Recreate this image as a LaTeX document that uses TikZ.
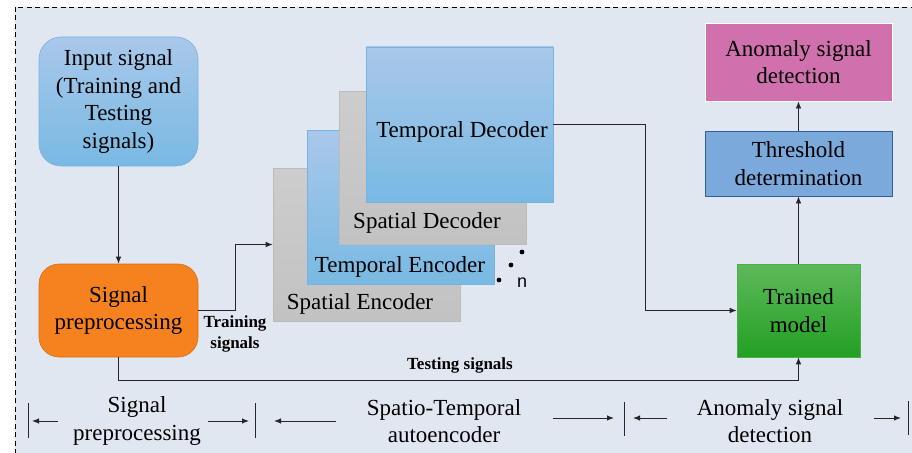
\documentclass[tikz,border=0pt]{standalone}
\usepackage{fontspec}
\setmainfont{Liberation Serif}
\newfontfamily\nfont{Liberation Sans}
\usetikzlibrary{arrows.meta}

\definecolor{bgcol}{HTML}{E1E7F1}
\definecolor{bluetop}{HTML}{A8C8EA}
\definecolor{bluebot}{HTML}{79B9E3}
\definecolor{blueedge}{HTML}{78B2E0}
\definecolor{graytop}{HTML}{CDCDCD}
\definecolor{graybot}{HTML}{C2C2C2}
\definecolor{grayedge}{HTML}{BBBBBB}
\definecolor{prepfill}{HTML}{F6821F}
\definecolor{prepedge}{HTML}{D86E16}
\definecolor{greentop}{HTML}{5EB95B}
\definecolor{greenbot}{HTML}{22A022}
\definecolor{greenedge}{HTML}{4DAF4A}
\definecolor{thrfill}{HTML}{7CA9DC}
\definecolor{thredge}{HTML}{2E5E9E}
\definecolor{anofill}{HTML}{D071AE}

\newcommand{\boxfont}{\fontsize{23}{27.6}\selectfont}
\newcommand{\tagfont}{\fontsize{17}{20.5}\selectfont\bfseries}

\begin{document}
\begin{tikzpicture}[x=1pt, y=-1pt,
    flow/.style={-{Latex[length=7pt,width=5.5pt]}, line width=0.8pt, draw=black!85},
    tick/.style={line width=1pt, draw=black!85},
    block/.style={rectangle, inner sep=0pt, align=center, font=\boxfont},
    blueblk/.style={block, top color=bluetop, bottom color=bluebot, draw=blueedge, line width=0.6pt},
    grayblk/.style={block, top color=graytop, bottom color=graybot, draw=grayedge, line width=0.6pt}]
\useasboundingbox (0,0) rectangle (912,452);
\clip (0,0) rectangle (912,452);
\draw[fill=bgcol, dash pattern=on 5pt off 3.5pt, line width=0.9pt] (15,7) rectangle (940,480);

% left column
\node (input)[blueblk, rounded corners=22pt, minimum width=159pt, minimum height=129pt] at (118.5,101.5) {Input signal\\(Training and\\Testing\\signals)};
\node (prep)[block, rounded corners=20pt, fill=prepfill, draw=prepedge, line width=0.6pt, minimum width=159pt, minimum height=93pt] at (118.5,310.5) {Signal\\preprocessing};

% stacked autoencoder layers
\node (SE)[grayblk, minimum width=187pt, minimum height=153pt] at (366.5,244.5) {};
\node (TE)[blueblk, minimum width=187pt, minimum height=154pt] at (400.5,207) {};
\node (SD)[grayblk, minimum width=187pt, minimum height=153pt] at (432.5,167.5) {};
\node (TD)[blueblk, minimum width=187pt, minimum height=155pt] at (459.5,124.5) {};
\node (SEtxt)[block] at (360,304) {Spatial Encoder};
\node (TEtxt)[block] at (400,267) {Temporal Encoder};
\node (SDtxt)[block] at (427,223) {Spatial Decoder};
\node (TDtxt)[block] at (462,132) {Temporal Decoder};
\fill (499,280) circle (2.4pt);
\fill (511,265) circle (2.4pt);
\fill (522,252) circle (2.4pt);
\node (nlbl) at (522,283) {\nfont\fontsize{18}{18}\selectfont n};

% right column
\node (trained)[block, top color=greentop, bottom color=greenbot, draw=greenedge, line width=0.6pt, minimum width=123pt, minimum height=93pt] at (798.5,310.5) {Trained\\model};
\node (thresh)[block, fill=thrfill, draw=thredge, line width=0.8pt, minimum width=187pt, minimum height=65pt] at (798.5,163.5) {Threshold\\determination};
\node (anomaly)[block, fill=anofill, draw=white, line width=0.8pt, minimum width=187pt, minimum height=78pt] at (798.5,62) {Anomaly signal\\detection};

% connectors
\coordinate (trbend) at (235,310.5);
\coordinate (dcbend) at (645,124.5);
\coordinate (tsbend) at (118.5,380);
\draw[flow] (input) -- (prep);
\draw[flow] (prep.east) -- (trbend) |- (SE.west);
\draw[flow] (TD.east) -- (dcbend) |- (trained.west);
\draw[flow] (prep.south) -- (tsbend) -| (trained.south);
\draw[flow] (trained) -- (thresh);
\draw[flow] (thresh) -- (anomaly);
\node (trlbl)[align=center, font=\tagfont] at (235,334) {Training\\signals};
\node (tslbl)[font=\tagfont] at (460,365) {Testing signals};

% stage labels
\node (lblprep)[block] at (137,421) {Signal\\preprocessing};
\node (lblstae)[block] at (444,421) {Spatio-Temporal\\autoencoder};
\node (lbldet)[block] at (770,421) {Anomaly signal\\detection};
\coordinate (bar1) at (28,420);
\coordinate (bar2) at (255,420);
\coordinate (bar3) at (624,419);
\coordinate (bar4) at (908,418);
\draw[tick] (bar1) ++(0,-17) -- ++(0,35);
\draw[tick] (bar2) ++(0,-17) -- ++(0,35);
\draw[tick] (bar3) ++(0,-17) -- ++(0,34);
\draw[tick] (bar4) ++(0,-17) -- ++(0,34);
\draw[flow, line width=1pt] (58,421) -- (32,421);
\draw[flow, line width=1pt] (208,421) -- (249,421);
\draw[flow, line width=1pt] (336,421) -- (274,421);
\draw[flow, line width=1pt] (553,418) -- (614,418);
\draw[flow, line width=1pt] (667,418) -- (633,418);
\draw[flow, line width=1pt] (874,418) -- (901,418);
\end{tikzpicture}
\end{document}
